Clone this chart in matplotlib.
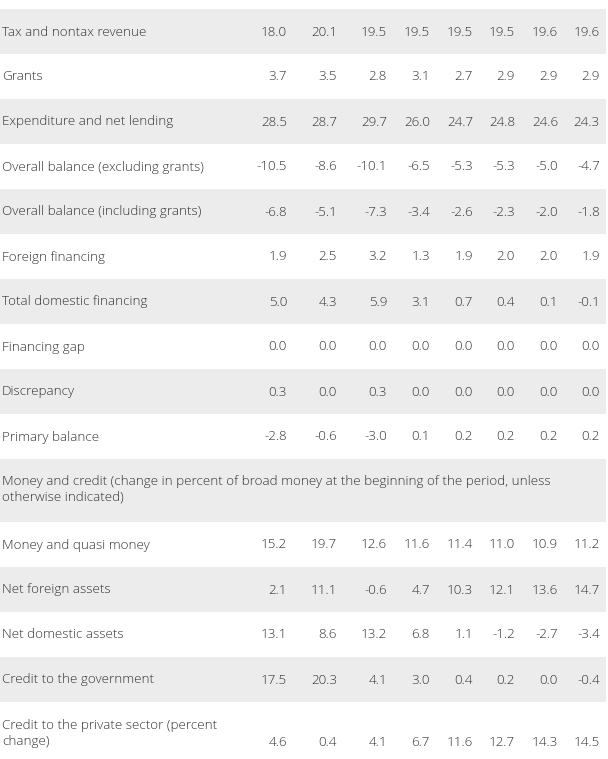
import matplotlib.pyplot as plt
from matplotlib.patches import Rectangle

# row labels of the fiscal block
fiscal_labels = [
    "Tax and nontax revenue",
    "Grants",
    "Expenditure and net lending",
    "Overall balance (excluding grants)",
    "Overall balance (including grants)",
    "Foreign financing",
    "Total domestic financing",
    "Financing gap",
    "Discrepancy",
    "Primary balance",
]
fiscal_values = [
    ["18.0", "20.1", "19.5", "19.5", "19.5", "19.5", "19.6", "19.6"],
    ["3.7", "3.5", "2.8", "3.1", "2.7", "2.9", "2.9", "2.9"],
    ["28.5", "28.7", "29.7", "26.0", "24.7", "24.8", "24.6", "24.3"],
    ["-10.5", "-8.6", "-10.1", "-6.5", "-5.3", "-5.3", "-5.0", "-4.7"],
    ["-6.8", "-5.1", "-7.3", "-3.4", "-2.6", "-2.3", "-2.0", "-1.8"],
    ["1.9", "2.5", "3.2", "1.3", "1.9", "2.0", "2.0", "1.9"],
    ["5.0", "4.3", "5.9", "3.1", "0.7", "0.4", "0.1", "-0.1"],
    ["0.0", "0.0", "0.0", "0.0", "0.0", "0.0", "0.0", "0.0"],
    ["0.3", "0.0", "0.3", "0.0", "0.0", "0.0", "0.0", "0.0"],
    ["-2.8", "-0.6", "-3.0", "0.1", "0.2", "0.2", "0.2", "0.2"],
]

money_header = ("Money and credit (change in percent of broad money at the beginning of the period, unless\n"
                "otherwise indicated)")
money_labels = [
    "Money and quasi money",
    "Net foreign assets",
    "Net domestic assets",
    "Credit to the government",
    "Credit to the private sector (percent\nchange)",
]
money_values = [
    ["15.2", "19.7", "12.6", "11.6", "11.4", "11.0", "10.9", "11.2"],
    ["2.1", "11.1", "-0.6", "4.7", "10.3", "12.1", "13.6", "14.7"],
    ["13.1", "8.6", "13.2", "6.8", "1.1", "-1.2", "-2.7", "-3.4"],
    ["17.5", "20.3", "4.1", "3.0", "0.4", "0.2", "0.0", "-0.4"],
    ["4.6", "0.4", "4.1", "6.7", "11.6", "12.7", "14.3", "14.5"],
]

W, H = 608, 759
col_right = [287, 337, 387, 430, 473, 515, 558, 600]
band = "#ececec"
txt = "#333333"
fs = 9.6
font = ["Open Sans", "DejaVu Sans"]

fig = plt.figure(figsize=(W / 100, H / 100), dpi=100)
ax = fig.add_axes([0, 0, 1, 1])
ax.set_xlim(0, W)
ax.set_ylim(H, 0)
ax.axis("off")


def draw_row(top, height, label, values, shaded, label_y=None, value_y=None):
    if shaded:
        ax.add_patch(Rectangle((0, top), 606, height, color=band, lw=0))
    mid = top + height / 2 + 0.5
    ax.text(2, label_y if label_y else mid, label, ha="left", va="center",
            fontsize=fs, color=txt, family=font, linespacing=1.3,
            fontweight="light")
    for x, v in zip(col_right, values or []):
        ax.text(x, value_y if value_y else mid, v, ha="right", va="center",
                fontsize=fs, color=txt, family=font, fontweight="light")


top = 9
shade = True
for lab, vals in zip(fiscal_labels, fiscal_values):
    draw_row(top, 45, lab, vals, shade)
    top += 45
    shade = not shade

# section header row
draw_row(top, 63, money_header, None, shade, label_y=top + 30)
top += 63
shade = not shade

for i, (lab, vals) in enumerate(zip(money_labels, money_values)):
    if i == len(money_labels) - 1:
        draw_row(top, H - top, lab, vals, shade, label_y=top + 31, value_y=top + 40)
    else:
        draw_row(top, 45, lab, vals, shade)
    top += 45
    shade = not shade

fig.savefig("out.png", dpi=100, facecolor="white")
